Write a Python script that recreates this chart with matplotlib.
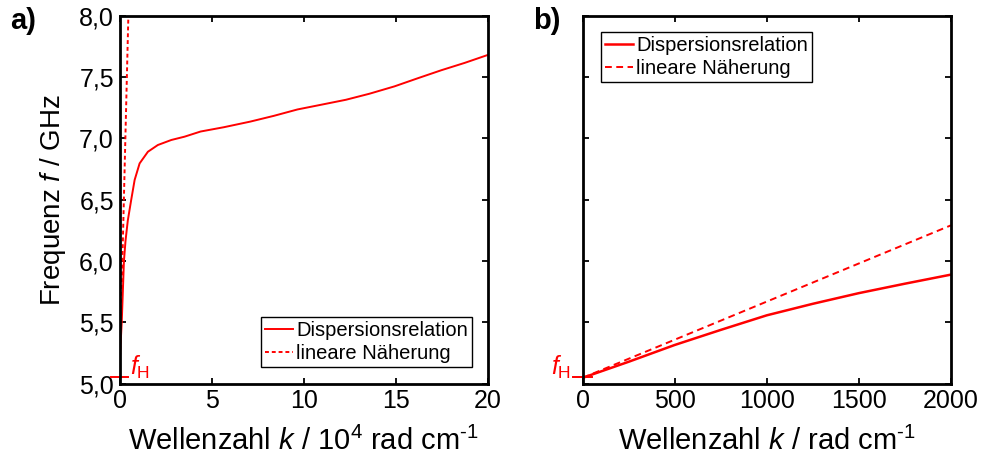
import matplotlib
matplotlib.use("Agg")
import matplotlib.pyplot as plt

plt.rcParams['font.family'] = ['Liberation Sans', 'DejaVu Sans']
plt.rcParams['mathtext.fontset'] = 'custom'
plt.rcParams['mathtext.rm'] = 'Liberation Sans'
plt.rcParams['mathtext.it'] = 'Liberation Sans:italic'
plt.rcParams['mathtext.bf'] = 'Liberation Sans:bold'

# f_H in GHz
f_H = 5.05

# panel a: k in 10^4 rad/cm
k_a = [0, 0.02, 0.05, 0.12, 0.24, 0.326, 0.45, 0.63, 0.82, 1.09, 1.54, 2.08,
       2.81, 3.53, 4.4, 5.66, 7.1, 8.38, 9.66, 10.93, 12.29, 13.56, 14.92,
       16.2, 17.47, 18.74, 20]
f_a = [5.05, 5.2, 5.3, 5.5, 6.0, 6.165, 6.33, 6.494, 6.66, 6.795, 6.89, 6.945,
       6.986, 7.013, 7.055, 7.09, 7.136, 7.183, 7.235, 7.273, 7.314, 7.363, 7.423,
       7.49, 7.555, 7.615, 7.68]
k_a_lin = [0, 0.48]
f_a_lin = [5.05, 8.0]

# panel b: k in rad/cm
k_b = [0, 250, 500, 750, 1000, 1250, 1500, 1750, 2000]
f_b = [5.046, 5.177, 5.314, 5.437, 5.556, 5.65, 5.737, 5.814, 5.888]
k_b_lin = [0, 2000]
f_b_lin = [5.046, 6.29]

yticks = [5.0, 5.5, 6.0, 6.5, 7.0, 7.5, 8.0]
ytick_labels = ['5,0', '5,5', '6,0', '6,5', '7,0', '7,5', '8,0']
xticks_a = [0, 5, 10, 15, 20]
xticks_b = [0, 500, 1000, 1500, 2000]

red = '#ff0000'

fig = plt.figure(figsize=(9.87, 4.63), dpi=100)
ax1 = fig.add_axes([0.1211, 0.1717, 0.3733, 0.7945])
ax2 = fig.add_axes([0.5902, 0.1717, 0.3733, 0.7945])

for ax in (ax1, ax2):
    ax.set_ylim(5.0, 8.0)
    ax.set_yticks(yticks)
    ax.tick_params(direction='in', length=4, width=1.3, top=True, right=True,
                   labelsize=18, pad=4)
    for s in ax.spines.values():
        s.set_linewidth(2)

leg_kw = dict(fontsize=14.5, frameon=True, fancybox=False, edgecolor='black',
              framealpha=1, handlelength=1.4, handletextpad=0.15, borderpad=0.2,
              borderaxespad=0, labelspacing=0.2)

ax1.plot(k_a, f_a, color=red, lw=1.4, label='Dispersionsrelation')
ax1.plot(k_a_lin, f_a_lin, color=red, lw=1.4, ls=(0, (2, 1.5)), label='lineare Näherung')
ax1.set_xlim(0, 20)
ax1.set_xticks(xticks_a)
ax1.set_yticklabels(ytick_labels)
ax1.set_xlabel(r'Wellenzahl $k$ / 10$^4$ rad cm$^{\text{-1}}$', fontsize=21, labelpad=10)
ax1.set_ylabel(r'Frequenz $f$ / GHz', fontsize=20, labelpad=8)
ax1.legend(loc='lower right', bbox_to_anchor=(0.956, 0.044), **leg_kw).get_frame().set_linewidth(1)

ax2.plot(k_b, f_b, color=red, lw=1.8, label='Dispersionsrelation')
ax2.plot(k_b_lin, f_b_lin, color=red, lw=1.4, ls=(0, (3.5, 2.3)), label='lineare Näherung')
ax2.set_xlim(0, 2000)
ax2.set_xticks(xticks_b)
ax2.set_yticklabels([])
ax2.set_xlabel(r'Wellenzahl $k$ / rad cm$^{\text{-1}}$', fontsize=21, labelpad=10)
ax2.legend(loc='upper left', bbox_to_anchor=(0.05, 0.956), **leg_kw).get_frame().set_linewidth(1)

# f_H markers
tr1 = ax1.get_yaxis_transform()
ax1.plot([-0.023, 0.022], [f_H, f_H], color=red, lw=1.4, transform=tr1, clip_on=False)
ax1.text(0.028, f_H + 0.02, r'$f_\mathrm{H}$', color=red, fontsize=18,
         transform=tr1, ha='left', va='baseline')
tr2 = ax2.get_yaxis_transform()
ax2.plot([-0.026, 0.025], [f_H, f_H], color=red, lw=1.4, transform=tr2, clip_on=False)
ax2.text(-0.03, f_H + 0.02, r'$f_\mathrm{H}$', color=red, fontsize=18,
         transform=tr2, ha='right', va='baseline')

fig.text(0.010, 0.955, 'a)', fontsize=21, fontweight='bold', va='center')
fig.text(0.540, 0.955, 'b)', fontsize=21, fontweight='bold', va='center')

fig.savefig('out.png', dpi=100)
